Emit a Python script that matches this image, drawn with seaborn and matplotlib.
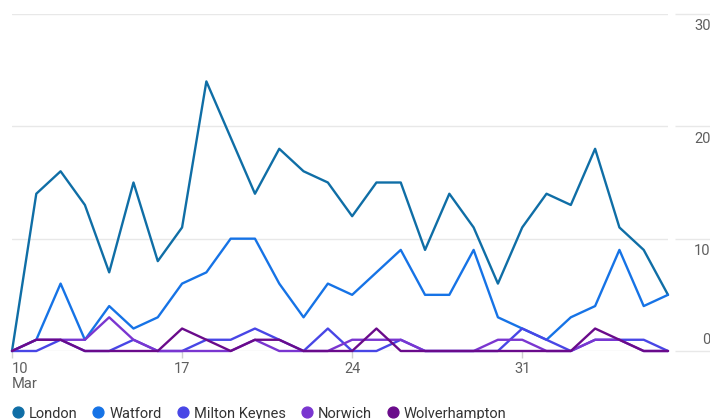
import pandas as pd
import numpy as np
import seaborn as sns
import matplotlib.pyplot as plt
import matplotlib.transforms as mtransforms
from matplotlib.lines import Line2D

dates = pd.date_range("2020-03-10", "2020-04-06", freq="D")

london = [0, 14, 16, 13, 7, 15, 8, 11, 24, 19, 14, 18, 16, 15, 12, 15, 15, 9, 14, 11, 6, 11, 14, 13, 18, 11, 9, 5]
watford = [0, 1, 6, 1, 4, 2, 3, 6, 7, 10, 10, 6, 3, 6, 5, 7, 9, 5, 5, 9, 3, 2, 1, 3, 4, 9, 4, 5]
milton_keynes = [0, 0, 1, 0, 0, 1, 0, 0, 1, 1, 2, 1, 0, 2, 0, 0, 1, 0, 0, 0, 0, 2, 1, 0, 1, 1, 1, 0]
norwich = [0, 1, 1, 1, 3, 1, 0, 0, 0, 0, 1, 0, 0, 0, 1, 1, 1, 0, 0, 0, 1, 1, 0, 0, 1, 1, 0, 0]
wolverhampton = [0, 1, 1, 0, 0, 0, 0, 2, 1, 0, 1, 1, 0, 0, 0, 2, 0, 0, 0, 0, 0, 0, 0, 0, 2, 1, 0, 0]

cities = ["London", "Watford", "Milton Keynes", "Norwich", "Wolverhampton"]
colors = ["#0f6ea6", "#1673e6", "#4846e6", "#7a36d0", "#6a0b8b"]

df = pd.DataFrame({
    "date": np.tile(dates, 5),
    "city": np.repeat(cities, len(dates)),
    "count": london + watford + milton_keynes + norwich + wolverhampton,
})

sns.set_style("white")
plt.rcParams["font.family"] = ["Roboto", "DejaVu Sans"]

fig = plt.figure(figsize=(7.1, 4.19), dpi=100)
ax = fig.add_axes([12 / 710, 1 - 351 / 419, (668 - 12) / 710, (351 - 14) / 419])

sns.lineplot(data=df, x="date", y="count", hue="city", palette=colors,
             hue_order=cities, linewidth=1.7, legend=False, ax=ax, clip_on=False)

ax.set_xlim(dates[0], dates[-1])
ax.set_ylim(0, 30)
ax.set_xlabel("")
ax.set_ylabel("")

for s in ax.spines.values():
    s.set_visible(False)

# gridlines run on past the plot (as tick marks) with labels sitting under them
ax.yaxis.tick_right()
ax.spines["right"].set_position(("outward", 5))
ax.set_yticks([0, 10, 20, 30])
ax.grid(axis="y", color="#e8e8e8", linewidth=1)
ax.grid(axis="x", visible=False)
ax.tick_params(axis="y", length=37 * 0.72, width=1, color="#e8e8e8",
               labelsize=10.5, labelcolor="#5f5f5f", pad=-1)
for i, lab in enumerate(ax.get_yticklabels()):
    lab.set_horizontalalignment("right")
    if i == 0:
        lab.set_verticalalignment("bottom")
        dy = 4 / 100
    else:
        lab.set_verticalalignment("top")
        dy = -5.5 / 100
    lab.set_transform(lab.get_transform()
                      + mtransforms.ScaledTranslation(0, dy, fig.dpi_scale_trans))

tick_days = [dates[0], dates[7], dates[14], dates[21]]
ax.set_xticks(tick_days)
ax.set_xticklabels(["10\nMar", "17", "24", "31"], linespacing=1.05)
ax.tick_params(axis="x", length=5, width=1, color="#d0d0d0",
               labelsize=10.5, labelcolor="#5f5f5f", pad=3, bottom=True)
ax.get_xticklabels()[0].set_horizontalalignment("left")

handles = [Line2D([], [], linestyle="none", marker="o", markersize=7.8,
                  markerfacecolor=c, markeredgecolor=c) for c in colors]
fig.legend(handles, cities, loc="lower left", bbox_to_anchor=(-0.002, -0.035),
           ncol=5, frameon=False, fontsize=10.5, handlelength=0.8,
           handletextpad=0.35, columnspacing=1.05, labelcolor="#333333")

fig.savefig("out.png", dpi=100)
